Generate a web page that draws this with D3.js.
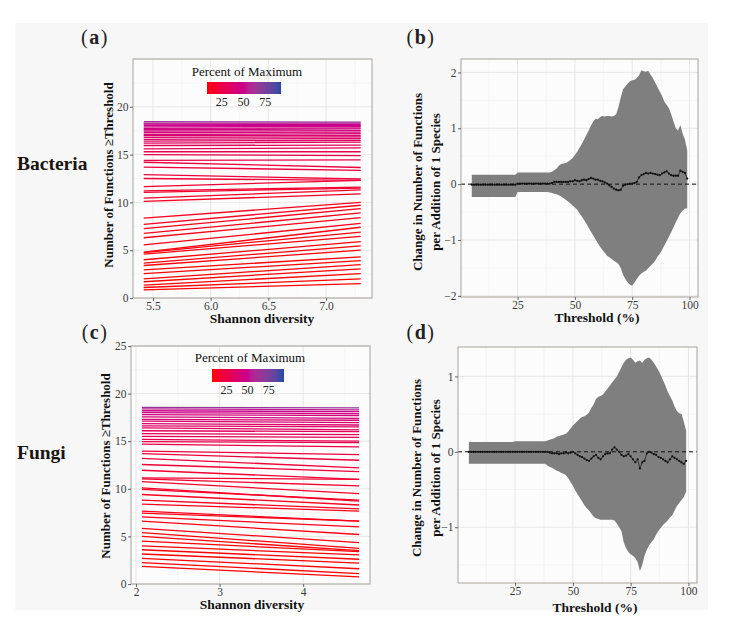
<!DOCTYPE html>
<html><head><meta charset="utf-8">
<script src="https://cdnjs.cloudflare.com/ajax/libs/d3/7.8.5/d3.min.js"></script>
<style>
body{margin:0;background:#fff;}
svg{display:block;}
text{font-family:"Liberation Serif","Times New Roman",serif;}
</style>
</head><body>
<svg id="chart" width="741" height="618"></svg>
<script>
// ---------------- DATA ----------------
// Panel (a) Bacteria: fitted lines (value at min and max Shannon diversity), colour = percent of maximum
const aDiversityRange = [5.42, 7.30];
const aLeft  = [0.85,1.1,1.35,1.7,2.0,2.55,2.95,3.4,3.65,4.0,4.6,4.75,4.8,5.55,6.3,6.75,7.25,7.7,8.35,
                10.1,10.45,11.05,11.2,11.65,12.5,12.9,13.7,14.2,14.4,15.0,15.3,15.6,15.95,16.2,16.4,16.6,16.8,
                17.0,17.1,17.3,17.45,17.6,17.75,17.9,18.05,18.2,18.3,18.45];
const aRight = [1.5,2.0,2.55,3.05,3.5,3.9,4.3,5.0,5.45,5.9,6.45,6.9,7.4,7.8,8.4,8.9,9.35,9.7,10.0,
                10.9,11.3,11.5,11.6,12.3,12.3,12.45,13.35,13.65,14.45,14.9,15.3,15.7,16.0,16.3,16.5,16.7,16.85,
                17.0,17.2,17.35,17.5,17.7,17.8,17.95,18.05,18.15,18.3,18.4];
const aPct   = [6,6,7,7,8,8,8,9,9,9,10,10,10,11,11,12,12,13,13,
                15,16,17,18,19,20,21,22,23,25,27,28,30,31,33,35,36,38,
                39,40,42,43,44,46,47,48,50,54,66];

// Panel (c) Fungi
const cDiversityRange = [2.07, 4.67];
const cLeft  = [1.85,2.25,2.7,3.15,3.6,4.0,4.5,5.0,5.4,5.85,6.6,7.05,7.45,7.65,8.4,8.8,9.4,9.95,10.1,10.75,
                11.05,11.15,11.95,12.55,13.2,13.7,13.95,14.7,14.95,15.2,15.5,15.8,16.1,16.4,16.6,16.85,17.1,
                17.3,17.55,17.8,18.0,18.2,18.4,18.55];
const cRight = [0.75,1.1,1.6,2.2,2.6,3.05,3.4,3.5,3.75,4.35,5.2,6.0,6.6,6.6,7.65,7.9,8.3,8.8,8.7,9.5,
                10.3,11.0,11.0,11.8,12.2,13.0,13.6,14.4,14.85,15.0,15.4,15.7,16.0,16.2,16.5,16.7,16.95,
                17.2,17.4,17.7,17.9,18.1,18.3,18.5];
const cPct   = [6,6,7,7,8,8,8,9,9,10,10,11,11,12,12,13,13,14,15,16,
                17,18,19,20,21,22,23,25,26,28,29,31,32,34,35,37,38,
                40,42,44,46,48,54,66];

// Panels (b) and (d): thresholds (%), estimate and confidence band
const thresholds = [5,6,7,8,9,10,11,12,13,14,15,16,17,18,19,20,21,22,23,24,25,26,27,28,29,30,31,32,33,34,
  35,36,37,38,39,40,41,42,43,44,45,46,47,48,49,50,51,52,53,54,55,56,57,58,59,60,61,62,63,64,
  65,66,67,68,69,70,71,72,73,74,75,76,77,78,79,80,81,82,83,84,85,86,87,88,89,90,91,92,93,94,
  95,96,97,98,99];

const bUpper = [0.17,0.17,0.17,0.17,0.17,0.17,0.17,0.17,0.17,0.17,
  0.17,0.17,0.17,0.17,0.17,0.17,0.17,0.17,0.17,0.17,
  0.21,0.21,0.21,0.21,0.21,0.21,0.21,0.21,0.21,0.21,
  0.21,0.21,0.21,0.21,0.21,0.22,0.25,0.28,0.33,0.36,
  0.37,0.38,0.40,0.43,0.47,0.52,0.58,0.65,0.72,0.80,
  0.88,0.96,1.05,1.12,1.17,1.16,1.20,1.22,1.21,1.22,
  1.22,1.21,1.22,1.25,1.38,1.55,1.70,1.75,1.80,1.84,
  1.86,1.87,1.90,1.95,2.04,2.02,2.01,2.03,1.96,1.90,
  1.82,1.74,1.66,1.58,1.48,1.42,1.36,1.25,1.12,1.00,
  0.96,1.06,0.90,0.80,0.60];
const bLower = [-0.23,-0.23,-0.23,-0.23,-0.23,-0.23,-0.23,-0.23,-0.23,-0.23,
  -0.23,-0.23,-0.23,-0.23,-0.23,-0.23,-0.23,-0.23,-0.23,-0.23,
  -0.14,-0.14,-0.14,-0.14,-0.14,-0.14,-0.14,-0.14,-0.14,-0.14,
  -0.14,-0.14,-0.14,-0.14,-0.15,-0.16,-0.17,-0.18,-0.20,-0.22,
  -0.25,-0.28,-0.31,-0.34,-0.38,-0.42,-0.46,-0.52,-0.58,-0.64,
  -0.71,-0.78,-0.85,-0.92,-0.99,-1.06,-1.12,-1.18,-1.23,-1.28,
  -1.31,-1.34,-1.37,-1.40,-1.43,-1.50,-1.62,-1.70,-1.76,-1.80,
  -1.82,-1.76,-1.70,-1.64,-1.60,-1.57,-1.55,-1.50,-1.46,-1.42,
  -1.37,-1.30,-1.25,-1.18,-1.10,-1.02,-0.94,-0.86,-0.77,-0.68,
  -0.60,-0.52,-0.47,-0.44,-0.43];
const bEstimate = [-0.01,-0.01,-0.01,-0.01,-0.01,-0.01,-0.01,-0.01,-0.01,-0.01,
  -0.01,-0.01,-0.01,-0.01,-0.01,-0.01,-0.01,-0.01,-0.01,-0.01,
  0.01,0.01,0.01,0.01,0.01,0.01,0.01,0.01,0.01,0.01,
  0.01,0.01,0.01,0.01,0.01,0.02,0.04,0.04,0.04,0.04,
  0.04,0.04,0.04,0.05,0.05,0.07,0.06,0.05,0.07,0.08,
  0.07,0.09,0.11,0.10,0.08,0.08,0.06,0.05,0.03,0.01,
  -0.02,-0.05,-0.08,-0.10,-0.11,-0.10,-0.03,-0.01,0.00,0.01,
  0.01,0.02,0.04,0.12,0.16,0.18,0.20,0.19,0.20,0.19,
  0.18,0.17,0.16,0.19,0.21,0.23,0.19,0.16,0.15,0.15,
  0.15,0.24,0.22,0.20,0.10];

const dUpper = [0.13,0.13,0.13,0.13,0.13,0.13,0.13,0.13,0.13,0.13,
  0.13,0.13,0.13,0.13,0.13,0.13,0.13,0.13,0.13,0.13,
  0.14,0.14,0.14,0.14,0.14,0.14,0.14,0.14,0.14,0.14,
  0.14,0.14,0.14,0.14,0.15,0.16,0.17,0.18,0.20,0.21,
  0.22,0.23,0.24,0.27,0.31,0.35,0.38,0.41,0.44,0.46,
  0.47,0.49,0.52,0.58,0.63,0.70,0.73,0.74,0.76,0.80,
  0.84,0.88,0.92,0.96,1.00,1.06,1.12,1.18,1.22,1.24,
  1.25,1.22,1.18,1.20,1.21,1.18,1.22,1.24,1.25,1.22,
  1.18,1.13,1.08,1.02,0.95,0.88,0.80,0.74,0.68,0.60,
  0.54,0.51,0.50,0.40,0.28];
const dLower = [-0.16,-0.16,-0.16,-0.16,-0.16,-0.16,-0.16,-0.16,-0.16,-0.16,
  -0.16,-0.16,-0.16,-0.16,-0.16,-0.16,-0.16,-0.16,-0.16,-0.16,
  -0.16,-0.16,-0.16,-0.16,-0.16,-0.16,-0.16,-0.16,-0.16,-0.16,
  -0.16,-0.16,-0.16,-0.16,-0.18,-0.20,-0.21,-0.23,-0.25,-0.26,
  -0.28,-0.29,-0.31,-0.35,-0.40,-0.45,-0.51,-0.56,-0.61,-0.66,
  -0.71,-0.75,-0.78,-0.82,-0.86,-0.88,-0.89,-0.90,-0.90,-0.90,
  -0.90,-0.90,-0.90,-0.91,-0.95,-1.00,-1.05,-1.20,-1.28,-1.33,
  -1.36,-1.38,-1.41,-1.46,-1.58,-1.50,-1.38,-1.30,-1.24,-1.20,
  -1.16,-1.10,-1.05,-1.01,-0.97,-0.94,-0.91,-0.87,-0.84,-0.78,
  -0.72,-0.68,-0.64,-0.60,-0.53];
const dEstimate = [0,0,0,0,0,0,0,0,0,0,
  0,0,0,0,0,0,0,0,0,0,
  0,0,0,0,0,0,0,0,0,0,
  0,0,0,0,0,-0.01,-0.02,-0.02,-0.02,-0.03,
  -0.02,-0.02,-0.01,-0.02,-0.01,0.00,-0.02,-0.04,-0.06,-0.07,
  -0.09,-0.11,-0.12,-0.09,-0.06,-0.04,-0.08,-0.10,-0.06,-0.03,
  -0.02,-0.02,0.03,0.06,0.03,0.00,-0.04,-0.06,-0.05,-0.03,
  -0.06,-0.10,-0.14,-0.10,-0.22,-0.14,-0.12,-0.02,0.00,-0.01,
  -0.03,-0.04,-0.07,-0.08,-0.10,-0.12,-0.14,-0.10,-0.06,-0.08,
  -0.10,-0.12,-0.14,-0.16,-0.12];

const countTicksA = [0,5,10,15,20];
const countTicksC = [0,5,10,15,20,25];
const divTicksA = [5.5,6.0,6.5,7.0];
const divTicksC = [2,3,4];
const thrTicks = [25,50,75,100];
const effTicksB = [-2,-1,0,1,2];
const effTicksD = [-1,0,1];
const legendTicks = [25,50,75];
const legendRange = [8,93];

// ---------------- DRAWING ----------------
const FONT = '"Liberation Serif","Times New Roman",serif';
const svg = d3.select("#chart");
svg.append("rect").attr("x",15).attr("y",23).attr("width",693).attr("height",587).attr("fill","#f7f7f7");

const colorScale = d3.scaleLinear().domain([legendRange[0], 50, legendRange[1]])
  .range(["#ff0000","#c8008e","#1f4aa6"]).interpolate(d3.interpolateLab);

const defs = svg.append("defs");
const grad = defs.append("linearGradient").attr("id","legGrad").attr("x1","0%").attr("x2","100%");
d3.range(0,1.0001,0.05).forEach(t=>{
  grad.append("stop").attr("offset",(t*100)+"%")
    .attr("stop-color",colorScale(legendRange[0]+t*(legendRange[1]-legendRange[0])));
});

function frame(box){
  const g = svg.append("g");
  g.append("rect").attr("x",box.x0).attr("y",box.y0).attr("width",box.x1-box.x0).attr("height",box.y1-box.y0)
    .attr("fill","#fcfcfc");
  return g;
}
function grid(g, box, x, y, xMajor, xMinor, yMajor, yMinor){
  const gg = g.append("g");
  xMinor.forEach(v=>gg.append("line").attr("x1",x(v)).attr("x2",x(v)).attr("y1",box.y0).attr("y2",box.y1).attr("stroke","#f0f0f0").attr("stroke-width",0.6));
  yMinor.forEach(v=>gg.append("line").attr("y1",y(v)).attr("y2",y(v)).attr("x1",box.x0).attr("x2",box.x1).attr("stroke","#f0f0f0").attr("stroke-width",0.6));
  xMajor.forEach(v=>gg.append("line").attr("x1",x(v)).attr("x2",x(v)).attr("y1",box.y0).attr("y2",box.y1).attr("stroke","#e4e4e4").attr("stroke-width",0.9));
  yMajor.forEach(v=>gg.append("line").attr("y1",y(v)).attr("y2",y(v)).attr("x1",box.x0).attr("x2",box.x1).attr("stroke","#e4e4e4").attr("stroke-width",0.9));
}
function axes(g, box, x, y, xt, yt, xfmt){
  const ax = g.append("g").attr("transform",`translate(0,${box.y1})`)
    .call(d3.axisBottom(x).tickValues(xt).tickSize(3).tickPadding(0.5).tickFormat(xfmt));
  const ay = g.append("g").attr("transform",`translate(${box.x0},0)`)
    .call(d3.axisLeft(y).tickValues(yt).tickSize(3).tickPadding(1.5).tickFormat(d=>d<0?"\u2212"+Math.abs(d):d));
  [ax,ay].forEach(a=>{
    a.attr("font-family",FONT);
    a.select(".domain").remove();
    a.selectAll(".tick line").attr("stroke","#444").attr("stroke-width",0.8);
    a.selectAll(".tick text").attr("fill","#3a3a3a").attr("font-size","11.5px").attr("font-family",FONT);
  });
}
function border(g, box){
  g.append("rect").attr("x",box.x0).attr("y",box.y0).attr("width",box.x1-box.x0).attr("height",box.y1-box.y0)
    .attr("fill","none").attr("stroke","#a8a39e").attr("stroke-width",1);
}
function label(x,y,letter){
  const t = svg.append("text").attr("x",x).attr("y",y).attr("text-anchor","middle")
    .attr("font-size","20px").attr("fill","#222").attr("letter-spacing","1.5px");
  t.append("tspan").text("(");
  t.append("tspan").attr("font-weight","bold").text(letter);
  t.append("tspan").text(")");
}
function xTitle(x,y,txt){
  svg.append("text").attr("x",x).attr("y",y).attr("text-anchor","middle").attr("font-weight","bold")
    .attr("font-size","13.5px").attr("fill","#111").text(txt);
}
function yTitle(x,y,txt){
  svg.append("text").attr("transform",`translate(${x},${y}) rotate(-90)`).attr("text-anchor","middle")
    .attr("font-weight","bold").attr("font-size","13px").attr("fill","#111").text(txt);
}

function linePanel(box, xDom, divRange, left, right, pct, xt, yt, xMinor, leg, xfmt){
  const x = d3.scaleLinear().domain(xDom).range([box.x0, box.x1]);
  const y = d3.scaleLinear().domain([0,25]).range([box.y1, box.y0]);
  const g = frame(box);
  grid(g, box, x, y, xt, xMinor, [0,5,10,15,20,25], [2.5,7.5,12.5,17.5,22.5]);
  const line = d3.line().x(d=>x(d[0])).y(d=>y(d[1]));
  left.forEach((l,i)=>{
    g.append("path").attr("d", line([[divRange[0],l],[divRange[1],right[i]]]))
      .attr("stroke", colorScale(pct[i])).attr("stroke-width",1.3).attr("fill","none");
  });
  border(g, box);
  axes(g, box, x, y, xt, yt, xfmt);
  // legend
  const lx = d3.scaleLinear().domain(legendRange).range([leg.x0, leg.x1]);
  svg.append("text").attr("x",leg.tx).attr("y",leg.ty).attr("text-anchor","middle")
    .attr("font-size","13px").attr("fill","#111").text("Percent of Maximum");
  svg.append("rect").attr("x",leg.x0).attr("y",leg.y0).attr("width",leg.x1-leg.x0).attr("height",leg.y1-leg.y0)
    .attr("fill","url(#legGrad)");
  legendTicks.forEach(v=>{
    svg.append("text").attr("x",lx(v)).attr("y",leg.y1+12).attr("text-anchor","middle")
      .attr("font-size","12px").attr("fill","#222").text(v);
  });
}

function effectPanel(box, yDom, upper, lower, est, yt, yMinor){
  const x = d3.scaleLinear().domain([0.3,103.7]).range([box.x0, box.x1]);
  const y = d3.scaleLinear().domain(yDom).range([box.y1, box.y0]);
  const g = frame(box);
  grid(g, box, x, y, thrTicks, [12.5,37.5,62.5,87.5], yt, yMinor);
  const data = thresholds.map((t,i)=>({t, u:upper[i], l:lower[i], e:est[i]}));
  g.append("path").datum(data)
    .attr("d", d3.area().x(d=>x(d.t)).y0(d=>y(d.l)).y1(d=>y(d.u)))
    .attr("fill","#7f7f7f");
  g.append("line").attr("x1",box.x0).attr("x2",box.x1).attr("y1",y(0)).attr("y2",y(0))
    .attr("stroke","#111").attr("stroke-width",1).attr("stroke-dasharray","4,3");
  g.append("path").datum(data).attr("d", d3.line().x(d=>x(d.t)).y(d=>y(d.e)))
    .attr("fill","none").attr("stroke","#111").attr("stroke-width",0.7);
  g.selectAll("circle.pt").data(data).enter().append("circle")
    .attr("cx",d=>x(d.t)).attr("cy",d=>y(d.e)).attr("r",1.15).attr("fill","#111");
  border(g, box);
  axes(g, box, x, y, thrTicks, yt, d3.format("d"));
}

// Panel a
linePanel({x0:133,x1:372,y0:59,y1:298}, [5.327,7.398], aDiversityRange, aLeft, aRight, aPct,
  divTicksA, countTicksA, [5.75,6.25,6.75,7.25],
  {x0:207,x1:281,y0:82,y1:94,tx:247,ty:76}, d3.format(".1f"));
// Panel c
linePanel({x0:131,x1:370,y0:346,y1:584}, [1.94,4.80], cDiversityRange, cLeft, cRight, cPct,
  divTicksC, countTicksC, [2.5,3.5,4.5],
  {x0:212,x1:284,y0:369,y1:382,tx:250,ty:362}, d3.format("d"));
// Panel b
effectPanel({x0:461,x1:698,y0:59,y1:297}, [-2.02,2.24], bUpper, bLower, bEstimate, effTicksB, [-1.5,-0.5,0.5,1.5]);
// Panel d
effectPanel({x0:458,x1:697,y0:347,y1:583}, [-1.74,1.39], dUpper, dLower, dEstimate, effTicksD, [-1.5,-0.5,0.5]);

// Titles
label(95,44,"a"); label(421,44,"b"); label(95,339,"c"); label(421,339,"d");
svg.append("text").attr("x",17).attr("y",170).attr("font-weight","bold").attr("font-size","19.5px").attr("fill","#1a1410").text("Bacteria");
svg.append("text").attr("x",17).attr("y",459).attr("font-weight","bold").attr("font-size","19.5px").attr("fill","#1a1410").text("Fungi");

xTitle(262,323,"Shannon diversity");
xTitle(252,609,"Shannon diversity");
xTitle(597,322,"Threshold (%)");
xTitle(595,612,"Threshold (%)");
yTitle(113,175,"Number of Functions \u2265Threshold");
yTitle(110,466,"Number of Functions \u2265Threshold");
yTitle(422,182,"Change in Number of Functions");
yTitle(440,182,"per Addition of 1 Species");
yTitle(421,468,"Change in Number of Functions");
yTitle(440,468,"per Addition of 1 Species");
</script>
</body></html>
